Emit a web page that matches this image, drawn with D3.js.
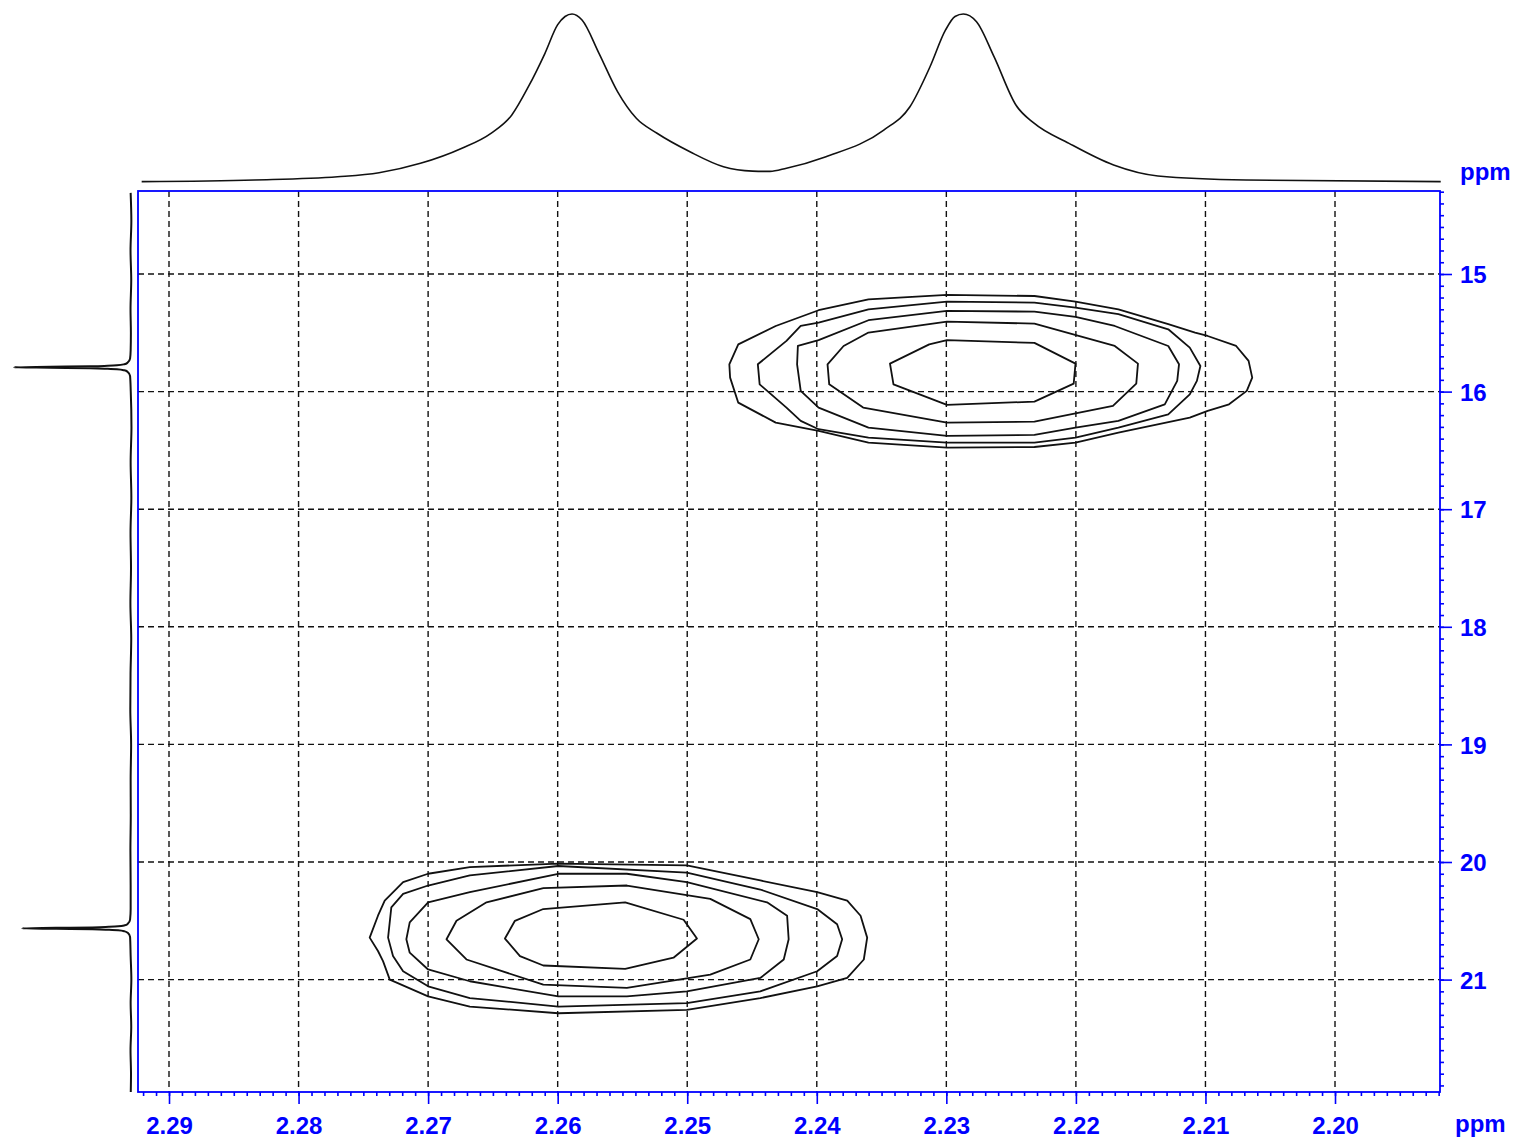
<!DOCTYPE html>
<html><head><meta charset="utf-8">
<script src="https://cdn.jsdelivr.net/npm/d3@7"></script>
<style>body{margin:0;background:#fff}svg{display:block}</style>
</head><body><svg id="c" width="1519" height="1142"></svg>
<script>
// ---- data ----
const xTicks = [2.29, 2.28, 2.27, 2.26, 2.25, 2.24, 2.23, 2.22, 2.21, 2.20];
const yTicks = [15, 16, 17, 18, 19, 20, 21];
const axisUnit = "ppm";

// top 1D projection (F2, ppm) and relative intensity
const topPpm = [2.29211, 2.28340, 2.27699, 2.27379, 2.27059, 2.26739, 2.26515, 2.26354, 2.26226, 2.26098, 2.26001, 2.25943, 2.25889, 2.25812, 2.25681, 2.25538, 2.25393, 2.25233, 2.24979, 2.24720, 2.24496, 2.24361, 2.24234, 2.23929, 2.23483, 2.23281, 2.23126, 2.23006, 2.22933, 2.22869, 2.22767, 2.22632, 2.22463, 2.22323, 2.22053, 2.21709, 2.21367, 2.20687, 2.19184];
const topInt = [0.2, 1.2, 3.1, 5.5, 11.1, 20.1, 29.0, 39.9, 56.7, 76.6, 93.5, 98.5, 100, 96.4, 76.6, 53.8, 37.9, 29.0, 18.0, 9.1, 6.5, 6.3, 8.2, 15.1, 30.9, 44.8, 68.6, 90.5, 98.5, 100, 95.4, 74.6, 45.8, 35.0, 23.0, 10.1, 3.6, 1.2, 0.2];

// left 1D projection (F1, ppm) and relative intensity
const leftPpm = [14.31, 14.55, 14.8, 15.05, 15.3, 15.5, 15.65, 15.720, 15.755, 15.767, 15.776, 15.780, 15.785, 15.789, 15.793, 15.797, 15.801, 15.806, 15.810, 15.819, 15.831, 15.866, 16.0, 16.3, 16.6, 16.9, 17.2, 17.5, 17.8, 18.1, 18.4, 18.7, 19.0, 19.3, 19.6, 19.9, 20.2, 20.4, 20.491, 20.526, 20.538, 20.547, 20.551, 20.556, 20.560, 20.564, 20.568, 20.572, 20.577, 20.581, 20.590, 20.602, 20.637, 20.8, 21.0, 21.2, 21.4, 21.6, 21.8, 21.955];
const leftInt = [0.3, -0.3, 0.4, -0.2, 0.4, 0.1, 0.3, 0.8, 3.0, 5.7, 12, 20, 35, 69, 100, 69, 35, 20, 12, 5.7, 3.0, 0.8, 0.2, -0.4, 0.3, -0.3, 0.4, 0.0, 0.5, -0.2, 0.4, 0.6, -0.1, 0.3, 0.2, 0.5, 0.3, 0.3, 0.8, 2.8, 5.3, 11, 19, 33, 64, 93, 64, 33, 19, 11, 5.3, 2.8, 0.8, 0.3, -0.3, 0.3, -0.2, 0.4, 0.0, 0.2];

// contour polygons [F2 ppm, F1 ppm], outermost level first
const upperContours = [
  [[2.24675,15.768],[2.24606,15.598],[2.24317,15.442],[2.23986,15.308],[2.23601,15.215],[2.22995,15.178],[2.22320,15.187],[2.22003,15.235],[2.21672,15.300],[2.21287,15.427],[2.21080,15.498],[2.20983,15.527],[2.20763,15.612],[2.20667,15.739],[2.20639,15.881],[2.20681,15.994],[2.20818,16.108],[2.20983,16.164],[2.21121,16.221],[2.21672,16.349],[2.22003,16.434],[2.22320,16.471],[2.22995,16.476],[2.23601,16.434],[2.23986,16.334],[2.24317,16.264],[2.24606,16.094],[2.24669,15.881]],
  [[2.24455,15.768],[2.24234,15.569],[2.24124,15.442],[2.23986,15.413],[2.23601,15.300],[2.22995,15.235],[2.22320,15.243],[2.22003,15.286],[2.21672,15.342],[2.21287,15.470],[2.21121,15.626],[2.21039,15.782],[2.21066,15.909],[2.21121,16.023],[2.21287,16.193],[2.21672,16.306],[2.22003,16.391],[2.22320,16.434],[2.22995,16.434],[2.23601,16.391],[2.23986,16.320],[2.24124,16.249],[2.24234,16.136],[2.24441,15.938]],
  [[2.24152,15.768],[2.24146,15.612],[2.23986,15.563],[2.23601,15.393],[2.22995,15.314],[2.22320,15.320],[2.22003,15.365],[2.21700,15.442],[2.21287,15.612],[2.21204,15.768],[2.21218,15.909],[2.21314,16.108],[2.21672,16.249],[2.22003,16.306],[2.22320,16.368],[2.22995,16.377],[2.23601,16.306],[2.23986,16.136],[2.24124,15.994]],
  [[2.23917,15.768],[2.23904,15.938],[2.23642,16.136],[2.22995,16.264],[2.22320,16.255],[2.21714,16.122],[2.21534,15.932],[2.21521,15.762],[2.21700,15.612],[2.22320,15.422],[2.22995,15.405],[2.23601,15.498],[2.23793,15.612]],
  [[2.23435,15.762],[2.23408,15.938],[2.22995,16.113],[2.22320,16.085],[2.22017,15.932],[2.22003,15.762],[2.22320,15.586],[2.22995,15.563],[2.23132,15.598]]
];
const lowerContours = [
  [[2.27451,20.643],[2.27387,20.457],[2.27335,20.329],[2.27193,20.171],[2.27000,20.100],[2.26678,20.043],[2.25995,20.014],[2.25003,20.029],[2.24436,20.157],[2.23997,20.257],[2.23765,20.329],[2.23662,20.457],[2.23611,20.643],[2.23637,20.829],[2.23765,20.986],[2.23997,21.057],[2.24436,21.157],[2.25003,21.257],[2.25995,21.286],[2.26678,21.229],[2.27000,21.143],[2.27296,21.000],[2.27348,20.843],[2.27387,20.757]],
  [[2.27309,20.643],[2.27284,20.386],[2.27193,20.271],[2.27000,20.200],[2.26678,20.114],[2.25995,20.034],[2.25003,20.091],[2.24436,20.234],[2.23997,20.400],[2.23843,20.529],[2.23804,20.657],[2.23843,20.800],[2.23997,20.929],[2.24436,21.100],[2.25003,21.200],[2.25995,21.229],[2.26678,21.157],[2.27000,21.057],[2.27193,20.929],[2.27271,20.800]],
  [[2.27168,20.657],[2.27142,20.514],[2.27000,20.343],[2.26678,20.257],[2.25995,20.100],[2.25466,20.100],[2.25003,20.171],[2.24384,20.343],[2.24229,20.457],[2.24217,20.657],[2.24255,20.829],[2.24436,20.986],[2.25003,21.100],[2.25466,21.143],[2.25995,21.143],[2.26678,21.014],[2.27000,20.914],[2.27142,20.771]],
  [[2.26858,20.657],[2.26781,20.500],[2.26549,20.343],[2.26111,20.223],[2.25466,20.200],[2.24822,20.314],[2.24513,20.486],[2.24448,20.657],[2.24513,20.829],[2.24822,20.957],[2.25466,21.071],[2.26111,21.043],[2.26704,20.829]],
  [[2.26407,20.651],[2.26330,20.500],[2.26111,20.400],[2.25479,20.343],[2.25028,20.491],[2.24925,20.651],[2.25106,20.814],[2.25479,20.909],[2.26111,20.880],[2.26291,20.800]]
];

// ---- drawing ----
const BLUE = "#0000ff";
const FONT = "'Liberation Sans', Arial, Helvetica, sans-serif";
const svg = d3.select("#c");
const L = 138, R = 1440, T = 191, B = 1092;

const x = d3.scaleLinear().domain([2.292393, 2.191896]).range([L, R]);
const y = d3.scaleLinear().domain([14.2942, 21.9558]).range([T, B]);
const topY = d3.scaleLinear().domain([0, 100]).range([182, 14]);
const leftX = d3.scaleLinear().domain([0, 100]).range([131, 14]);

// grid
const grid = svg.append("g").attr("stroke", "#111").attr("stroke-width", 1.4).attr("stroke-dasharray", "6,4");
grid.selectAll("line.v").data(xTicks).join("line").attr("class", "v")
  .attr("x1", d => x(d)).attr("x2", d => x(d)).attr("y1", T).attr("y2", B);
grid.selectAll("line.h").data(yTicks).join("line").attr("class", "h")
  .attr("y1", d => y(d)).attr("y2", d => y(d)).attr("x1", L).attr("x2", R);

// contours
const cline = d3.line().x(d => x(d[0])).y(d => y(d[1])).curve(d3.curveLinearClosed);
svg.append("g").attr("fill", "none").attr("stroke", "#111").attr("stroke-width", 1.8)
  .attr("stroke-linejoin", "round")
  .selectAll("path").data(upperContours.concat(lowerContours)).join("path").attr("d", cline);

// top projection
const topData = topPpm.map((p, i) => [p, topInt[i]]);
svg.append("path").datum(topData).attr("fill", "none").attr("stroke", "#111").attr("stroke-width", 1.6)
  .attr("d", d3.line().x(d => x(d[0])).y(d => topY(d[1])).curve(d3.curveMonotoneX));

// left projection
const leftData = leftPpm.map((p, i) => [p, leftInt[i]]);
svg.append("path").datum(leftData).attr("fill", "none").attr("stroke", "#111").attr("stroke-width", 2)
  .attr("d", d3.line().x(d => leftX(d[1])).y(d => y(d[0])).curve(d3.curveMonotoneY));

// frame
svg.append("rect").attr("x", L).attr("y", T).attr("width", R - L).attr("height", B - T)
  .attr("fill", "none").attr("stroke", BLUE).attr("stroke-width", 1.8);

// axes
const xMinor = d3.range(2192, 2293).map(v => v / 1000).filter(v => v >= 2.1919 && v <= 2.2924);
const yMinor = d3.range(143, 220).map(v => v / 10).filter(v => v >= 14.2942 && v <= 21.9558);

function styleAxis(g) {
  g.select(".domain").remove();
  g.selectAll(".tick line").attr("stroke", BLUE).attr("stroke-width", 1.6);
  g.selectAll(".tick text").attr("fill", BLUE).attr("font-family", FONT)
    .attr("font-weight", "bold").attr("font-size", 24);
}
svg.append("g").attr("transform", `translate(0,${B})`)
  .call(d3.axisBottom(x).tickValues(xMinor).tickSize(4).tickFormat("")).call(styleAxis);
svg.append("g").attr("transform", `translate(0,${B})`)
  .call(d3.axisBottom(x).tickValues(xTicks).tickSize(12).tickPadding(13).tickFormat(d3.format(".2f"))).call(styleAxis);
svg.append("g").attr("transform", `translate(${R},0)`)
  .call(d3.axisRight(y).tickValues(yMinor).tickSize(4).tickFormat("")).call(styleAxis);
const gy = svg.append("g").attr("transform", `translate(${R},0)`)
  .call(d3.axisRight(y).tickValues(yTicks).tickSize(12).tickPadding(8).tickFormat(d3.format("d"))).call(styleAxis);
gy.selectAll(".tick text").attr("dy", "0.36em");

// unit labels
svg.append("text").attr("x", 1460).attr("y", 180).text(axisUnit)
  .attr("fill", BLUE).attr("font-family", FONT).attr("font-weight", "bold").attr("font-size", 24);
svg.append("text").attr("x", 1455).attr("y", 1132).text(axisUnit)
  .attr("fill", BLUE).attr("font-family", FONT).attr("font-weight", "bold").attr("font-size", 24);
</script>
</body></html>
